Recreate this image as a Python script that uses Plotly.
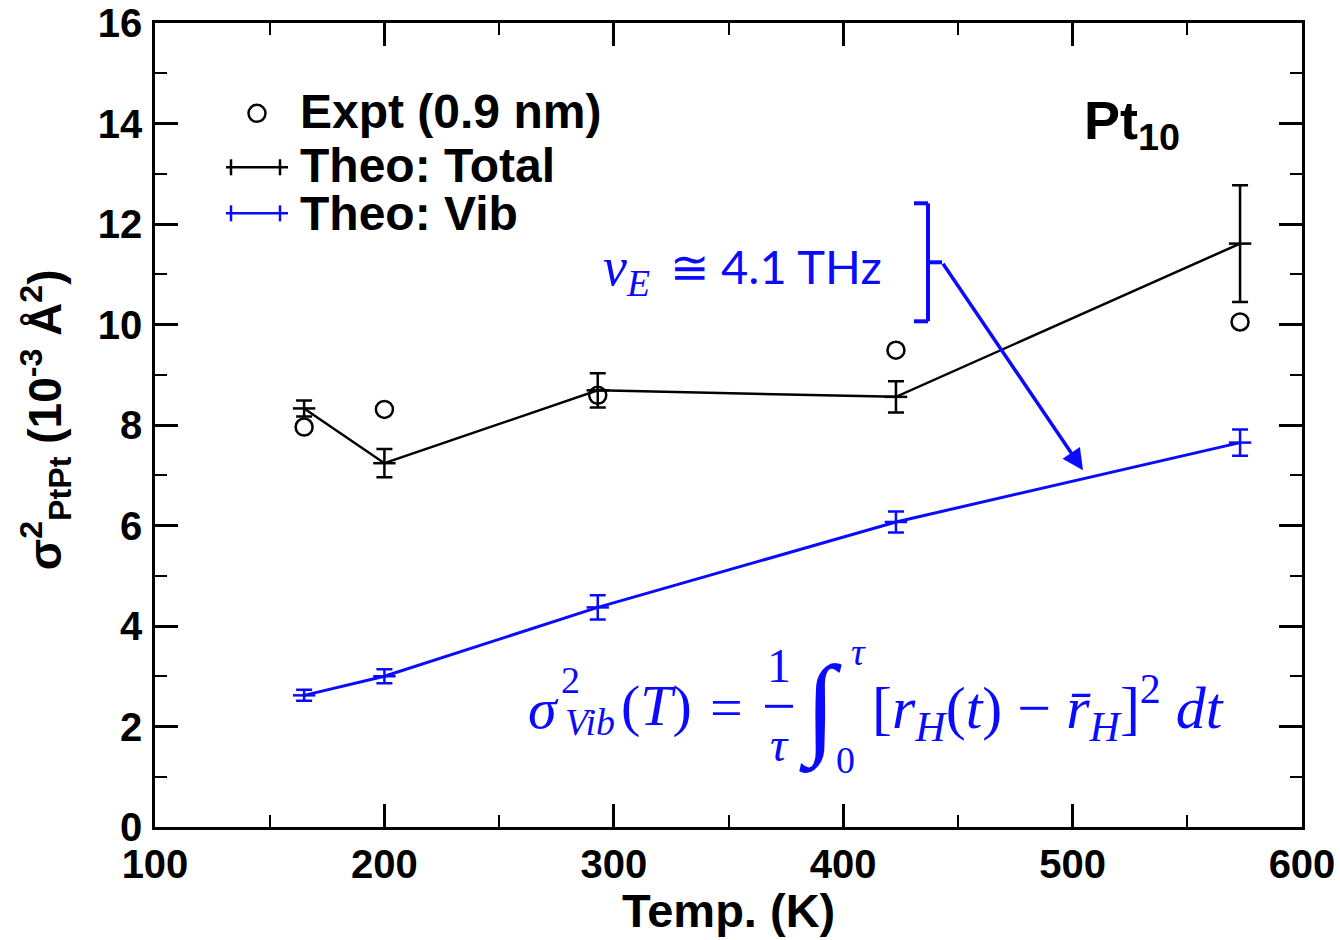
import plotly.graph_objects as go

# ---- data ----
temps = [165, 200, 293, 423, 573]
expt = [7.96, 8.31, 8.59, 9.49, 10.05]
total = [8.33, 7.24, 8.69, 8.56, 11.61]
total_err = [0.16, 0.28, 0.34, 0.31, 1.16]
vib = [2.62, 3.0, 4.37, 6.07, 7.65]
vib_err = [0.11, 0.14, 0.24, 0.21, 0.26]

x_ticks = [100, 200, 300, 400, 500, 600]
y_ticks = [0, 2, 4, 6, 8, 10, 12, 14, 16]

BLUE = "#0a0aff"
W, H = 1340, 940
L, R, T, B = 155, 1302, 22.7, 826.7


def dx(px):
    return 100 + (px - L) * 500 / (R - L)


def dy(py):
    return (B - py) * 16 / (B - T)


fig = go.Figure()

fig.add_trace(go.Scatter(
    x=temps, y=total, mode="lines+markers",
    line=dict(color="black", width=2.5),
    marker=dict(symbol="line-ew", size=16, line=dict(color="black", width=2.5)),
    error_y=dict(type="data", array=total_err, color="black", thickness=2.5, width=8),
    showlegend=False))

fig.add_trace(go.Scatter(
    x=temps, y=vib, mode="lines+markers",
    line=dict(color=BLUE, width=3),
    marker=dict(symbol="line-ew", size=16, line=dict(color=BLUE, width=2.5)),
    error_y=dict(type="data", array=vib_err, color=BLUE, thickness=2.5, width=8),
    showlegend=False))

fig.add_trace(go.Scatter(
    x=temps, y=expt, mode="markers",
    marker=dict(symbol="circle-open", size=17, color="black", line=dict(color="black", width=2.5)),
    showlegend=False))

shapes = []
annotations = []

# ---- custom legend ----
fig.add_trace(go.Scatter(
    x=[dx(257)], y=[dy(113)], mode="markers",
    marker=dict(symbol="circle-open", size=17, color="black", line=dict(color="black", width=2.5)),
    showlegend=False, hoverinfo="skip"))

for py, col in [(167, "black"), (213, BLUE)]:
    shapes.append(dict(type="line", xref="x", yref="y", x0=dx(226), x1=dx(288), y0=dy(py), y1=dy(py),
                       line=dict(color=col, width=2.5)))
    for px in (231, 280):
        shapes.append(dict(type="line", xref="x", yref="y", x0=dx(px), x1=dx(px), y0=dy(py - 8), y1=dy(py + 8),
                           line=dict(color=col, width=2.5)))

leg_font = dict(family="Liberation Sans", size=48, color="black")
for txt, py in [("<b>Expt (0.9 nm)</b>", 111), ("<b>Theo: Total</b>", 165), ("<b>Theo: Vib</b>", 213)]:
    annotations.append(dict(x=dx(298), y=dy(py), xref="x", yref="y", text=txt, showarrow=False,
                            xanchor="left", yanchor="middle", font=leg_font))

annotations.append(dict(x=dx(1082), y=dy(124), xref="x", yref="y", text="<b>Pt<sub>10</sub></b>",
                        showarrow=False, xanchor="left", yanchor="middle",
                        font=dict(family="Liberation Sans", size=54, color="black")))

# ---- nu_E annotation ----
annotations.append(dict(x=dx(601), y=dy(270), xref="x", yref="y",
                        text="<i>ν</i><sub><i>E</i></sub>", showarrow=False, xanchor="left", yanchor="middle",
                        font=dict(family="Liberation Serif", size=54, color=BLUE)))
annotations.append(dict(x=dx(668), y=dy(266), xref="x", yref="y",
                        text="≅ 4.1 THz", showarrow=False, xanchor="left", yanchor="middle",
                        font=dict(family="Lato", size=47, color=BLUE)))

# bracket
brk = [(914, 203), (928, 203), (928, 321), (914, 321)]
for (a, b_), (c, d) in zip(brk[:-1], brk[1:]):
    shapes.append(dict(type="line", xref="x", yref="y", x0=dx(a), y0=dy(b_), x1=dx(c), y1=dy(d),
                       line=dict(color=BLUE, width=4)))
shapes.append(dict(type="line", xref="x", yref="y", x0=dx(928), y0=dy(262), x1=dx(942), y1=dy(262),
                   line=dict(color=BLUE, width=4)))
annotations.append(dict(x=dx(1083), y=dy(470), ax=dx(942), ay=dy(262), xref="x", yref="y",
                        axref="x", ayref="y", text="", showarrow=True, arrowhead=2, arrowsize=1.2,
                        arrowwidth=3.5, arrowcolor=BLUE))

# ---- formula ----
ff = "Liberation Serif"
def fa(px, py, txt, size, anchor="center"):
    annotations.append(dict(x=dx(px), y=dy(py), xref="x", yref="y", text=txt, showarrow=False,
                            xanchor=anchor, yanchor="middle", font=dict(family=ff, size=size, color=BLUE)))

fa(543, 708, "<i>σ</i>", 58)
fa(570, 680, "2", 38)
fa(590, 722, "<i>Vib</i>", 38)
fa(656, 705, "(<i>T</i>)", 58)
fa(726, 707, "=", 58)
fa(779, 665, "1", 48)
shapes.append(dict(type="line", xref="x", yref="y", x0=dx(765), x1=dx(793), y0=dy(706), y1=dy(706),
                   line=dict(color=BLUE, width=3)))
fa(779, 744, "<i>τ</i>", 48)
fa(820, 708, "<i>∫</i>", 112)
fa(858, 652, "<i>τ</i>", 38)
fa(845, 760, "0", 38)
fa(870, 708, "[<i>r</i><sub><i>H</i></sub>(<i>t</i>) − <i>r̄</i><sub><i>H</i></sub>]<sup>2</sup> <i>dt</i>",
   60, anchor="left")

# ---- axis titles ----
annotations.append(dict(x=0.5, y=-(910 - B) / (B - T), xref="paper", yref="paper",
                        text="<b>Temp. (K)</b>", showarrow=False, xanchor="center", yanchor="middle",
                        font=dict(family="Liberation Sans", size=47, color="black")))
annotations.append(dict(x=(45 - L) / (R - L), y=(B - 420) / (B - T), xref="paper", yref="paper",
                        text="<b>σ<sup>2</sup><sub>PtPt</sub> (10<sup>-3</sup> Å<sup>2</sup>)</b>",
                        textangle=-90, showarrow=False, xanchor="center", yanchor="middle",
                        font=dict(family="Liberation Sans", size=46, color="black")))

axis_common = dict(showgrid=False, zeroline=False, showline=True, linecolor="black", linewidth=2.5,
                   mirror="allticks", ticks="inside", ticklen=23, tickwidth=2.5, tickcolor="black",
                   automargin=False,
                   tickfont=dict(family="Liberation Sans", size=40, color="black"))

fig.update_layout(
    width=W, height=H,
    margin=dict(l=L, r=W - R, t=T, b=H - B, pad=0, autoexpand=False),
    paper_bgcolor="white", plot_bgcolor="white",
    shapes=shapes, annotations=annotations,
    xaxis=dict(range=[100, 600], tickvals=x_ticks, ticktext=[f"<b>{v}</b>" for v in x_ticks],
               minor=dict(ticks="inside", ticklen=12, tickwidth=2, dtick=50, tick0=100, tickcolor="black"),
               ticklabelstandoff=0, **axis_common),
    yaxis=dict(range=[0, 16], tickvals=y_ticks, ticktext=[f"<b>{v}</b>" for v in y_ticks],
               minor=dict(ticks="inside", ticklen=12, tickwidth=2, dtick=1, tick0=0, tickcolor="black"),
               ticklabelstandoff=2, **axis_common),
)

fig.write_html("out.html")
